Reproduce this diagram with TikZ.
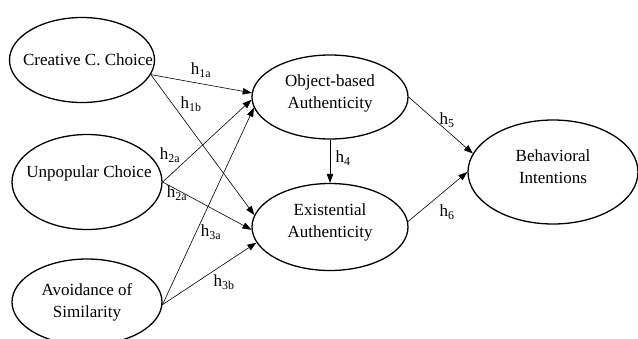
\documentclass[tikz,border=0pt]{standalone}
\usepackage{fontspec}
\setmainfont{Liberation Serif}
\usetikzlibrary{positioning,shapes.geometric,arrows.meta}
\tikzset{
construct/.style={ellipse, draw, line width=1.3pt, inner sep=0pt},
ctext/.style={align=center, inner sep=0pt, font=\fontsize{17}{22}\selectfont},
hpath/.style={-{Triangle[length=9pt,width=6.5pt]}, line width=0.6pt},
hlab/.style={inner sep=0pt, font=\fontsize{17}{20}\selectfont}
}
\newcommand{\hyp}[1]{h\textsubscript{#1}}

\begin{document}
\begin{tikzpicture}[x=1pt,y=-1pt]
\useasboundingbox (0,0) rectangle (638,338);

\node[construct, minimum width=145, minimum height=85, label={[ctext, xshift=6pt]center:Creative C. Choice}] (ccc) at (82,60) {};
\node[construct, minimum width=150, minimum height=95, label={[ctext, xshift=2pt, yshift=9pt]center:Unpopular Choice}] (upc) at (87,182) {};
\node[construct, minimum width=150, minimum height=86, label={[ctext]center:Avoidance of\\Similarity}] (aos) at (87,302) {};

\node[construct, minimum width=156, minimum height=84, label={[ctext, yshift=4pt]center:Object-based\\Authenticity}] (obj) at (330,97) {};
\node[construct, minimum width=156, minimum height=87, label={[ctext, yshift=5pt]center:Existential\\Authenticity}] (exa) at (330,227) {};
\node[construct, minimum width=170, minimum height=104, label={[ctext, yshift=5pt]center:Behavioral\\Intentions}] (bhi) at (553,172) {};

\draw[hpath] (ccc.348) -- (obj.177);
\draw[hpath] (ccc.348) -- (exa.171);
\draw[hpath] (upc.east) -- (obj.182);
\draw[hpath] (upc.east) -- (exa.182);
\draw[hpath] (aos.358) -- (obj.188);
\draw[hpath] (aos.358) -- (exa.192);
\draw[hpath] (obj.south) -- (exa.north);
\draw[hpath] (obj.east) -- (bhi.167);
\draw[hpath] (exa.4) -- (bhi.west);

\node[hlab] (h1a) at (201,70) {\hyp{1a}};
\node[hlab] (h1b) at (191,104) {\hyp{1b}};
\node[hlab] (h2a) at (170,155) {\hyp{2a}};
\node[hlab] (h2b) at (177,193) {\hyp{2a}};
\node[hlab] (h3a) at (211,232) {\hyp{3a}};
\node[hlab] (h3b) at (224,282) {\hyp{3b}};
\node[hlab] (h4) at (343,158) {\hyp{4}};
\node[hlab] (h5) at (447,120) {\hyp{5}};
\node[hlab] (h6) at (447,212) {\hyp{6}};
\end{tikzpicture}
\end{document}
